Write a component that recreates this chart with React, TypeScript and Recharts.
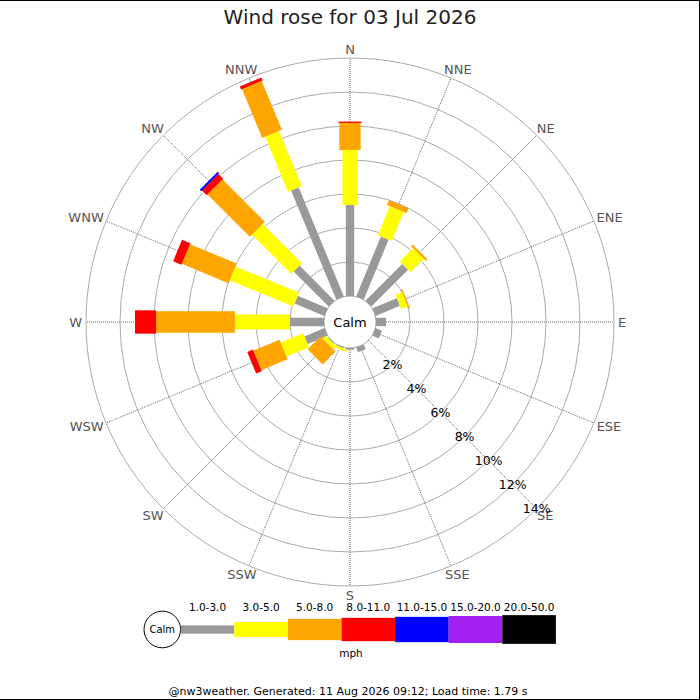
import React from "react";
import {
  RadialBarChart,
  RadialBar,
  PolarAngleAxis,
  PolarRadiusAxis,
  PolarGrid,
  Legend,
  Customized,
} from "recharts";

// Compass points, clockwise from north
const DIRECTIONS = ["N", "NNE", "NE", "ENE", "E", "ESE", "SE", "SSE", "S", "SSW", "SW", "WSW", "W", "WNW", "NW", "NNW"];

// Speed bins (mph)
const SPEED_BINS = ["1.0-3.0", "3.0-5.0", "5.0-8.0", "8.0-11.0", "11.0-15.0", "15.0-20.0", "20.0-50.0"];

// % of the day spent in each bin, per direction
const BIN_1_3 = [5.35, 3.81, 3.06, 1.55, 0.59, 0.41, 0, 0.3, 0.1, 0.05, 0.05, 1.27, 2.0, 1.9, 2.92, 6.94];
const BIN_3_5 = [3.24, 1.85, 1.11, 0.42, 0, 0, 0, 0, 0, 0.15, 0.25, 1.43, 3.24, 4.05, 3.26, 3.51];
const BIN_5_8 = [1.59, 0.31, 0.13, 0.08, 0, 0, 0, 0, 0, 0, 1.07, 1.67, 4.64, 2.97, 3.52, 3.11];
const BIN_8_11 = [0.08, 0, 0, 0, 0, 0, 0, 0, 0, 0, 0, 0.36, 1.24, 0.53, 0.4, 0.19];
const BIN_11_15 = [0, 0, 0, 0, 0, 0, 0, 0, 0, 0, 0, 0, 0, 0, 0.12, 0];
const BIN_15_20 = [0, 0, 0, 0, 0, 0, 0, 0, 0, 0, 0, 0, 0, 0, 0, 0];
const BIN_20_50 = [0, 0, 0, 0, 0, 0, 0, 0, 0, 0, 0, 0, 0, 0, 0, 0];

const PCT_TICKS = [0, 2, 4, 6, 8, 10, 12, 14];

const TITLE = "Wind rose for 03 Jul 2026";
const FOOTER = "@nw3weather. Generated: 11 Aug 2026 09:12; Load time: 1.79 s";

const BINS = [BIN_1_3, BIN_3_5, BIN_5_8, BIN_8_11, BIN_11_15, BIN_15_20, BIN_20_50];
const COLORS = ["#999999", "#ffff00", "#ffa500", "#ff0000", "#0000ff", "#a020f0", "#000000"];
const BAR_WIDTHS = [8.3, 15, 21.3, 23.3, 25.3, 27, 28.7];

const rows = DIRECTIONS.map((dir, d) => {
  const row: Record<string, string | number> = { dir };
  BINS.forEach((bin, i) => (row[`b${i}`] = bin[d]));
  return row;
});

const FONT = "DejaVu Sans, Verdana, sans-serif";
const CX = 350;
const CY = 322;
const HALF_BAND = 180 / DIRECTIONS.length;
const RAD = Math.PI / 180;

let measureCtx: CanvasRenderingContext2D | null = null;
function textWidth(s: string, size: number) {
  if (!measureCtx) measureCtx = document.createElement("canvas").getContext("2d");
  if (!measureCtx) return s.length * size * 0.62;
  measureCtx.font = `${size}px "DejaVu Sans"`;
  return measureCtx.measureText(s).width;
}

// straight bar of fixed width along the sector's middle angle
function WindBar(props: any) {
  const { cx, cy, innerRadius, outerRadius, startAngle, endAngle, fill, barWidth } = props;
  if (!(outerRadius - innerRadius > 0.05)) return null;
  const a = (-(startAngle + endAngle) / 2) * RAD;
  const ux = Math.cos(a);
  const uy = Math.sin(a);
  const h = barWidth / 2;
  const pts = [
    [innerRadius, -h],
    [outerRadius, -h],
    [outerRadius, h],
    [innerRadius, h],
  ]
    .map(([r, o]) => `${cx + r * ux - o * uy},${cy + r * uy + o * ux}`)
    .join(" ");
  return <polygon points={pts} fill={fill} />;
}

// band ticks sit at the band edge; move the label to the band middle,
// and push its box just outside the outer ring
function DirTick(props: any) {
  const { payload } = props;
  const cx = props.cx ?? CX;
  const cy = props.cy ?? CY;
  const r = (props.radius ?? 264) + 4;
  const a = -(payload.coordinate + HALF_BAND) * RAD;
  const ux = Math.cos(a);
  const uy = Math.sin(a);
  const w = textWidth(String(payload.value), 13);
  return (
    <text
      x={cx + r * ux + (w / 2) * ux}
      y={cy + r * uy + 5 * uy}
      textAnchor="middle"
      dominantBaseline="central"
      fontSize={13}
      fill="#555"
      fontFamily={FONT}
    >
      {payload.value}
    </text>
  );
}

function PctTick(props: any) {
  const { x, y, payload } = props;
  if (payload.value === 0) return null;
  return (
    <text x={x} y={y} textAnchor="middle" dominantBaseline="central" fontSize={12.5} fill="#000" fontFamily={FONT}>
      {`${payload.value}%`}
    </text>
  );
}

function SpeedLegend() {
  const x0 = 180.7;
  const w = 53.6;
  const ym = 34.5;
  return (
    <svg width={700} height={70} style={{ display: "block" }}>
      <circle cx={162.3} cy={ym} r={18.3} fill="#fff" stroke="#000" strokeWidth={1} />
      <text x={162.3} y={ym} textAnchor="middle" dominantBaseline="central" fontSize={10} fontFamily={FONT}>
        Calm
      </text>
      {SPEED_BINS.map((label, i) => (
        <g key={label}>
          <rect x={x0 + i * w} y={ym - BAR_WIDTHS[i] / 2} width={w} height={BAR_WIDTHS[i]} fill={COLORS[i]} />
          <text x={x0 + i * w + w / 2} y={12} textAnchor="middle" dominantBaseline="central" fontSize={10.5} fontFamily={FONT}>
            {label}
          </text>
        </g>
      ))}
      <text x={351} y={58} textAnchor="middle" dominantBaseline="central" fontSize={10.5} fontFamily={FONT}>
        mph
      </text>
    </svg>
  );
}

function Overlay() {
  return (
    <g fontFamily={FONT}>
      <text x={350} y={24} textAnchor="middle" fontSize={20} fill="#222">
        {TITLE}
      </text>
      <text x={CX} y={CY} textAnchor="middle" dominantBaseline="central" fontSize={13} fill="#000">
        Calm
      </text>
      <text x={348} y={695} textAnchor="middle" fontSize={11} fill="#000">
        {FOOTER}
      </text>
    </g>
  );
}

export default function App() {
  return (
    <div style={{ position: "fixed", left: 0, top: 0, width: 700, height: 700, background: "#fff" }}>
      <RadialBarChart
        width={700}
        height={700}
        data={rows}
        layout="centric"
        cx={CX}
        cy={CY}
        innerRadius={26}
        outerRadius={264}
        startAngle={90 - HALF_BAND}
        endAngle={-270 - HALF_BAND}
        margin={{ top: 0, right: 0, bottom: 0, left: 0 }}
      >
        <PolarGrid gridType="circle" radialLines={false} stroke="#aaa" />
        <PolarGrid
          gridType="circle"
          polarAngles={DIRECTIONS.map((_, i) => 90 - i * 2 * HALF_BAND)}
          polarRadius={[]}
          stroke="#666"
          strokeDasharray="1 1"
        />
        <PolarAngleAxis type="category" dataKey="dir" tick={DirTick} tickLine={false} axisLine={false} />
        <PolarRadiusAxis
          type="number"
          domain={[0, 14]}
          ticks={PCT_TICKS}
          angle={-45}
          axisLine={false}
          tickLine={false}
          tick={PctTick}
        />
        {SPEED_BINS.map((label, i) => (
          <RadialBar
            key={label}
            name={label}
            dataKey={`b${i}`}
            stackId="wind"
            fill={COLORS[i]}
            isAnimationActive={false}
            shape={(p: any) => <WindBar {...p} barWidth={BAR_WIDTHS[i]} />}
          />
        ))}
        <Customized component={Overlay} />
        <Legend content={() => <SpeedLegend />} wrapperStyle={{ position: "absolute", left: 0, top: 595, width: 700 }} />
      </RadialBarChart>
      <div
        style={{
          position: "absolute",
          inset: 0,
          border: "1px solid #000",
          borderLeft: "none",
          pointerEvents: "none",
        }}
      />
    </div>
  );
}
